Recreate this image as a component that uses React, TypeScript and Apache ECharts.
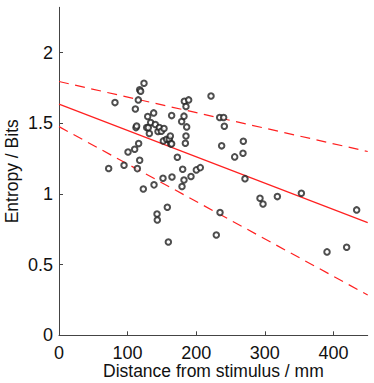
import React, { useEffect, useRef } from "react";
import * as echarts from "echarts";

const distance: number[] = [
  72.4, 81.6, 94.8, 100.6, 110.3, 111.3, 112.2, 113.2, 114.2, 115.6,
  116.1, 117.6, 117.6, 119.0, 122.9, 123.9, 127.8, 129.3, 130.2, 131.7,
  133.6, 138.0, 138.5, 140.4, 142.9, 143.3, 144.3, 146.3, 149.2, 151.6,
  152.1, 153.1, 156.9, 157.9, 159.4, 160.8, 162.3, 162.8, 164.2, 164.7,
  164.2, 172.5, 178.8, 179.3, 180.3, 182.2, 182.2, 182.7, 184.2, 185.1,
  185.1, 186.1, 189.0, 192.4, 200.2, 206.0, 221.6, 229.3, 234.2, 234.7,
  237.1, 240.0, 241.0, 256.1, 268.2, 268.7, 271.1, 293.0, 297.4, 318.3,
  353.3, 390.7, 419.3, 433.9,
];
const entropy: number[] = [
  1.18, 1.646, 1.203, 1.297, 1.316, 1.601, 1.469, 1.481, 1.179, 1.665,
  1.356, 1.238, 1.736, 1.726, 1.035, 1.783, 1.469, 1.547, 1.469, 1.427,
  1.505, 1.573, 1.064, 1.491, 0.858, 0.816, 1.441, 1.469, 1.443, 1.111,
  1.375, 1.462, 1.387, 0.906, 0.66, 1.387, 1.41, 1.354, 1.554, 1.12,
  1.354, 1.259, 1.512, 1.052, 1.175, 1.55, 1.099, 1.656, 1.358, 1.41,
  1.618, 1.474, 1.665, 1.123, 1.17, 1.186, 1.693, 0.71, 1.54, 0.868,
  1.34, 1.54, 1.479, 1.262, 1.288, 1.373, 1.108, 0.969, 0.929, 0.981,
  1.005, 0.59, 0.623, 0.887,
];

const fitX: number[] = [0, 450];
const fitY: number[] = [1.635, 0.797];
const upperY: number[] = [1.795, 1.3];
const lowerY: number[] = [1.476, 0.285];

const xTicks = { min: 0, max: 450, interval: 100 };
const yTicks = { min: 0, max: 2.32, interval: 0.5 };

const FONT = "'Liberation Sans', Arial, Helvetica, sans-serif";
const RED = "#ff2020";

export default function App() {
  const ref = useRef<HTMLDivElement>(null);
  useEffect(() => {
    if (!ref.current) return;
    const chart = echarts.init(ref.current, undefined, { renderer: "svg" });
    const pts = distance.map((d, i) => [d, entropy[i]]);
    const lineData = (ys: number[]) => fitX.map((x, i) => [x, ys[i]]);
    chart.setOption({
      animation: false,
      grid: { left: 59, right: 6.3, top: 7.3, bottom: 47.7, outerBoundsMode: "none", containLabel: false },
      xAxis: {
        type: "value",
        min: xTicks.min,
        max: xTicks.max,
        interval: xTicks.interval,
        name: "Distance from stimulus / mm",
        nameLocation: "middle",
        nameGap: 27.5,
        nameMoveOverlap: false,
        nameTextStyle: { fontFamily: FONT, fontSize: 17.5, lineHeight: 17, color: "#111" },
        axisLine: { show: true, onZero: false, lineStyle: { color: "#444", width: 1 } },
        axisTick: { show: true, inside: true, length: 4, lineStyle: { color: "#444" } },
        axisLabel: {
          showMaxLabel: false,
          margin: 8.5,
          fontFamily: FONT,
          fontSize: 18,
          lineHeight: 18,
          color: "#111",
        },
        splitLine: { show: false },
      },
      yAxis: {
        type: "value",
        min: yTicks.min,
        max: yTicks.max,
        interval: yTicks.interval,
        name: "Entropy / Bits",
        nameLocation: "middle",
        nameGap: 38.5,
        nameMoveOverlap: false,
        nameTextStyle: { fontFamily: FONT, fontSize: 17.5, lineHeight: 17, color: "#111" },
        axisLine: { show: true, onZero: false, lineStyle: { color: "#444", width: 1 } },
        axisTick: { show: true, inside: true, length: 4, lineStyle: { color: "#444" } },
        axisLabel: {
          showMaxLabel: false,
          margin: 6,
          fontFamily: FONT,
          fontSize: 18,
          color: "#111",
        },
        splitLine: { show: false },
      },
      series: [
        {
          type: "line",
          data: lineData(upperY),
          showSymbol: false,
          symbol: "none",
          lineStyle: { color: RED, width: 1.2, type: [10, 6.5] },
          z: 1,
        },
        {
          type: "line",
          data: lineData(lowerY),
          showSymbol: false,
          symbol: "none",
          lineStyle: { color: RED, width: 1.2, type: [10, 6.5] },
          z: 1,
        },
        {
          type: "line",
          data: lineData(fitY),
          showSymbol: false,
          symbol: "none",
          lineStyle: { color: RED, width: 1.2, type: "solid" },
          z: 1,
        },
        {
          type: "scatter",
          data: pts,
          symbol: "emptyCircle",
          symbolSize: 5.5,
          itemStyle: { color: "#222", borderColor: "#222", borderWidth: 1 },
          z: 2,
        },
      ],
    });
    return () => chart.dispose();
  }, []);
  return (
    <div
      ref={ref}
      style={{ position: "fixed", left: 0, top: 0, width: 374, height: 383, background: "#fff" }}
    />
  );
}
